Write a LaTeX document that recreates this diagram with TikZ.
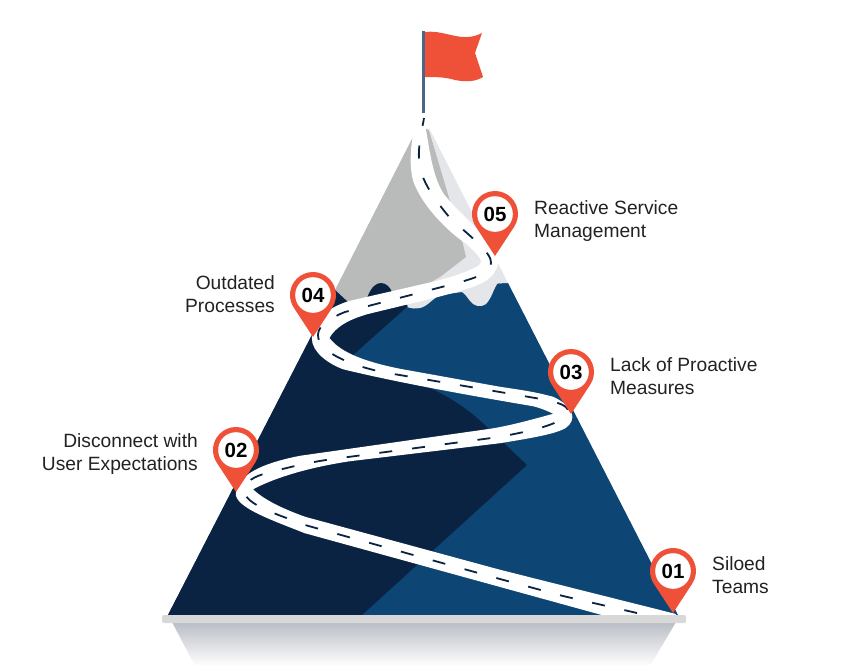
\documentclass[tikz,border=0pt]{standalone}
\usepackage{fontspec}
\setmainfont{Liberation Sans}
\definecolor{navy}{HTML}{0A2342}
\definecolor{sea}{HTML}{0D4674}
\definecolor{rock}{HTML}{B8BBBA}
\definecolor{snow}{HTML}{E5E6E9}
\definecolor{pinred}{HTML}{EF5138}
\definecolor{poleblue}{HTML}{4A6585}
\definecolor{ground}{HTML}{D8D8D8}
\definecolor{ink}{HTML}{222222}
\definecolor{shadowtop}{HTML}{B9BDC5}
\tikzset{
  lbl/.style={font=\fontsize{19.2}{23}\selectfont,text=ink,align=left,anchor=west,inner sep=0pt},
  lblr/.style={font=\fontsize{19.2}{23}\selectfont,text=ink,align=right,anchor=east,inner sep=0pt},
  pinnum/.style={font=\fontsize{20.5}{20.5}\selectfont\bfseries,text=black,inner sep=0pt},
}
\newcommand{\mappin}[4]{%
  \begin{scope}[shift={(#1,#2)},x=1pt,y=1pt]
    \fill[pinred] (0,-42) -- (-33.2:23) arc (-33.2:213.2:23) -- cycle;
    \fill[white] (0,0) circle (17.8);
    \node[pinnum] (#4) at (0,0) {#3};
  \end{scope}}
\begin{document}
\begin{tikzpicture}[x=1pt,y=-1pt]
\useasboundingbox (0,0) rectangle (850,670);
\fill[white] (0,0) rectangle (850,670);
% shadow
\shade[top color=shadowtop,bottom color=white] (172,622) -- (676,622) -- (650,666) -- (195,666) -- cycle;
% mountain
\fill[sea] (168,615) -- (335,290) -- (508,283) -- (678,615) -- cycle;
% light snow
\fill[snow] (429,128) -- (508,283) -- (498,283)
  .. controls (494,287) and (492,298) .. (486,304)
  .. controls (480,308) and (474,306) .. (470,301)
  .. controls (467,297) and (465,294) .. (462,292)
  -- (440,295) .. controls (434,298) and (430,303) .. (425,306)
  .. controls (418,310) and (410,309) .. (403,305)
  -- (395,295) -- (440,260) -- (465,240) -- (451,207) -- cycle;
% grey rock
\fill[rock] (335,290) -- (419,125) -- (429,130) -- (452,208) -- (462,240) -- (466,257) -- (440,277) -- (400,300) -- (350,310) -- cycle;
% dark shade
\fill[navy] (168,615) -- (335,290) -- (348,302) -- (367,298)
  .. controls (371,287) and (376,283) .. (381,283)
  .. controls (386,283) and (390,287) .. (392,292)
  -- (408,306) -- (353,355) -- (360,366)
  .. controls (420,380) and (455,395) .. (490,430)
  -- (527,465) -- (362,615) -- cycle;
% road
\filldraw[white,line width=2.4pt,line join=round] (675,615) -- (500,571) -- (305,518)
  .. controls (280,509) and (262,500) .. (251,489)
  .. controls (275,476) and (310,466) .. (350,460)
  -- (500,442)
  .. controls (530,437) and (555,433) .. (565,427)
  .. controls (575,420) and (574,408) .. (553,398)
  .. controls (535,393) and (520,391) .. (500,388)
  -- (400,370)
  .. controls (370,364) and (340,355) .. (328,338)
  .. controls (335,325) and (350,318) .. (367,313)
  -- (433,297)
  .. controls (460,290) and (475,286) .. (485,280)
  .. controls (500,270) and (500,255) .. (490,243)
  .. controls (475,228) and (455,210) .. (443,195)
  .. controls (430,175) and (428,145) .. (423,120)
  -- (418,120)
  .. controls (410,145) and (410,175) .. (417,187)
  .. controls (425,205) and (445,228) .. (467,243)
  .. controls (480,255) and (488,262) .. (477,268)
  .. controls (465,274) and (450,279) .. (433,283)
  -- (350,302)
  .. controls (330,308) and (313,320) .. (313,338)
  .. controls (313,352) and (330,363) .. (343,368)
  .. controls (400,382) and (480,396) .. (533,405)
  .. controls (542,407) and (550,411) .. (557,414)
  .. controls (535,420) and (510,427) .. (490,430)
  -- (300,457)
  .. controls (275,462) and (237,472) .. (237,495)
  .. controls (240,508) and (275,520) .. (305,532)
  -- (610,616) -- (675,618) -- cycle;
% road centre line
\draw[navy,line width=1.8pt,dash pattern=on 13pt off 20pt]
  (637,613) -- (563,596) -- (500,579) -- (305,525)
  .. controls (280,515) and (244,505) .. (244,490)
  .. controls (244,482) and (255,476) .. (267,473)
  .. controls (290,467) and (310,462) .. (333,459)
  -- (499,437)
  .. controls (530,431) and (566,424) .. (568,411)
  .. controls (568,405) and (555,402) .. (547,400)
  -- (382,372)
  .. controls (350,365) and (318,352) .. (318,335)
  .. controls (318,325) and (330,318) .. (345,312)
  -- (461,282)
  .. controls (480,276) and (495,272) .. (490,258)
  .. controls (485,247) and (465,232) .. (450,218)
  .. controls (435,200) and (420,180) .. (419,160)
  .. controls (418,145) and (422,130) .. (424,118);
% ground
\fill[ground,rounded corners=2pt] (162,615) rectangle (686,623);
% flag
\fill[poleblue] (422,31) rectangle (425,113);
\fill[pinred] (425,32) .. controls (440,30) and (455,38) .. (467,37)
  .. controls (473,37) and (478,35) .. (482,33)
  -- (475,53) -- (483,77)
  .. controls (475,82) and (465,82) .. (455,80)
  .. controls (445,77) and (435,77) .. (425,77) -- cycle;
% pins
\mappin{673}{571}{01}{p1}
\mappin{236}{450}{02}{p2}
\mappin{571}{372}{03}{p3}
\mappin{313}{295}{04}{p4}
\mappin{495}{214}{05}{p5}
% labels
\node[lbl] (l1) at (712,575) {Siloed\\Teams};
\node[lblr] (l2) at (198,454) {Disconnect with\\User Expectations};
\node[lbl] (l3) at (610,376) {Lack of Proactive\\Measures};
\node[lblr] (l4) at (275,294) {Outdated\\Processes};
\node[lbl] (l5) at (534,221) {Reactive Service\\Management};
\end{tikzpicture}
\end{document}
